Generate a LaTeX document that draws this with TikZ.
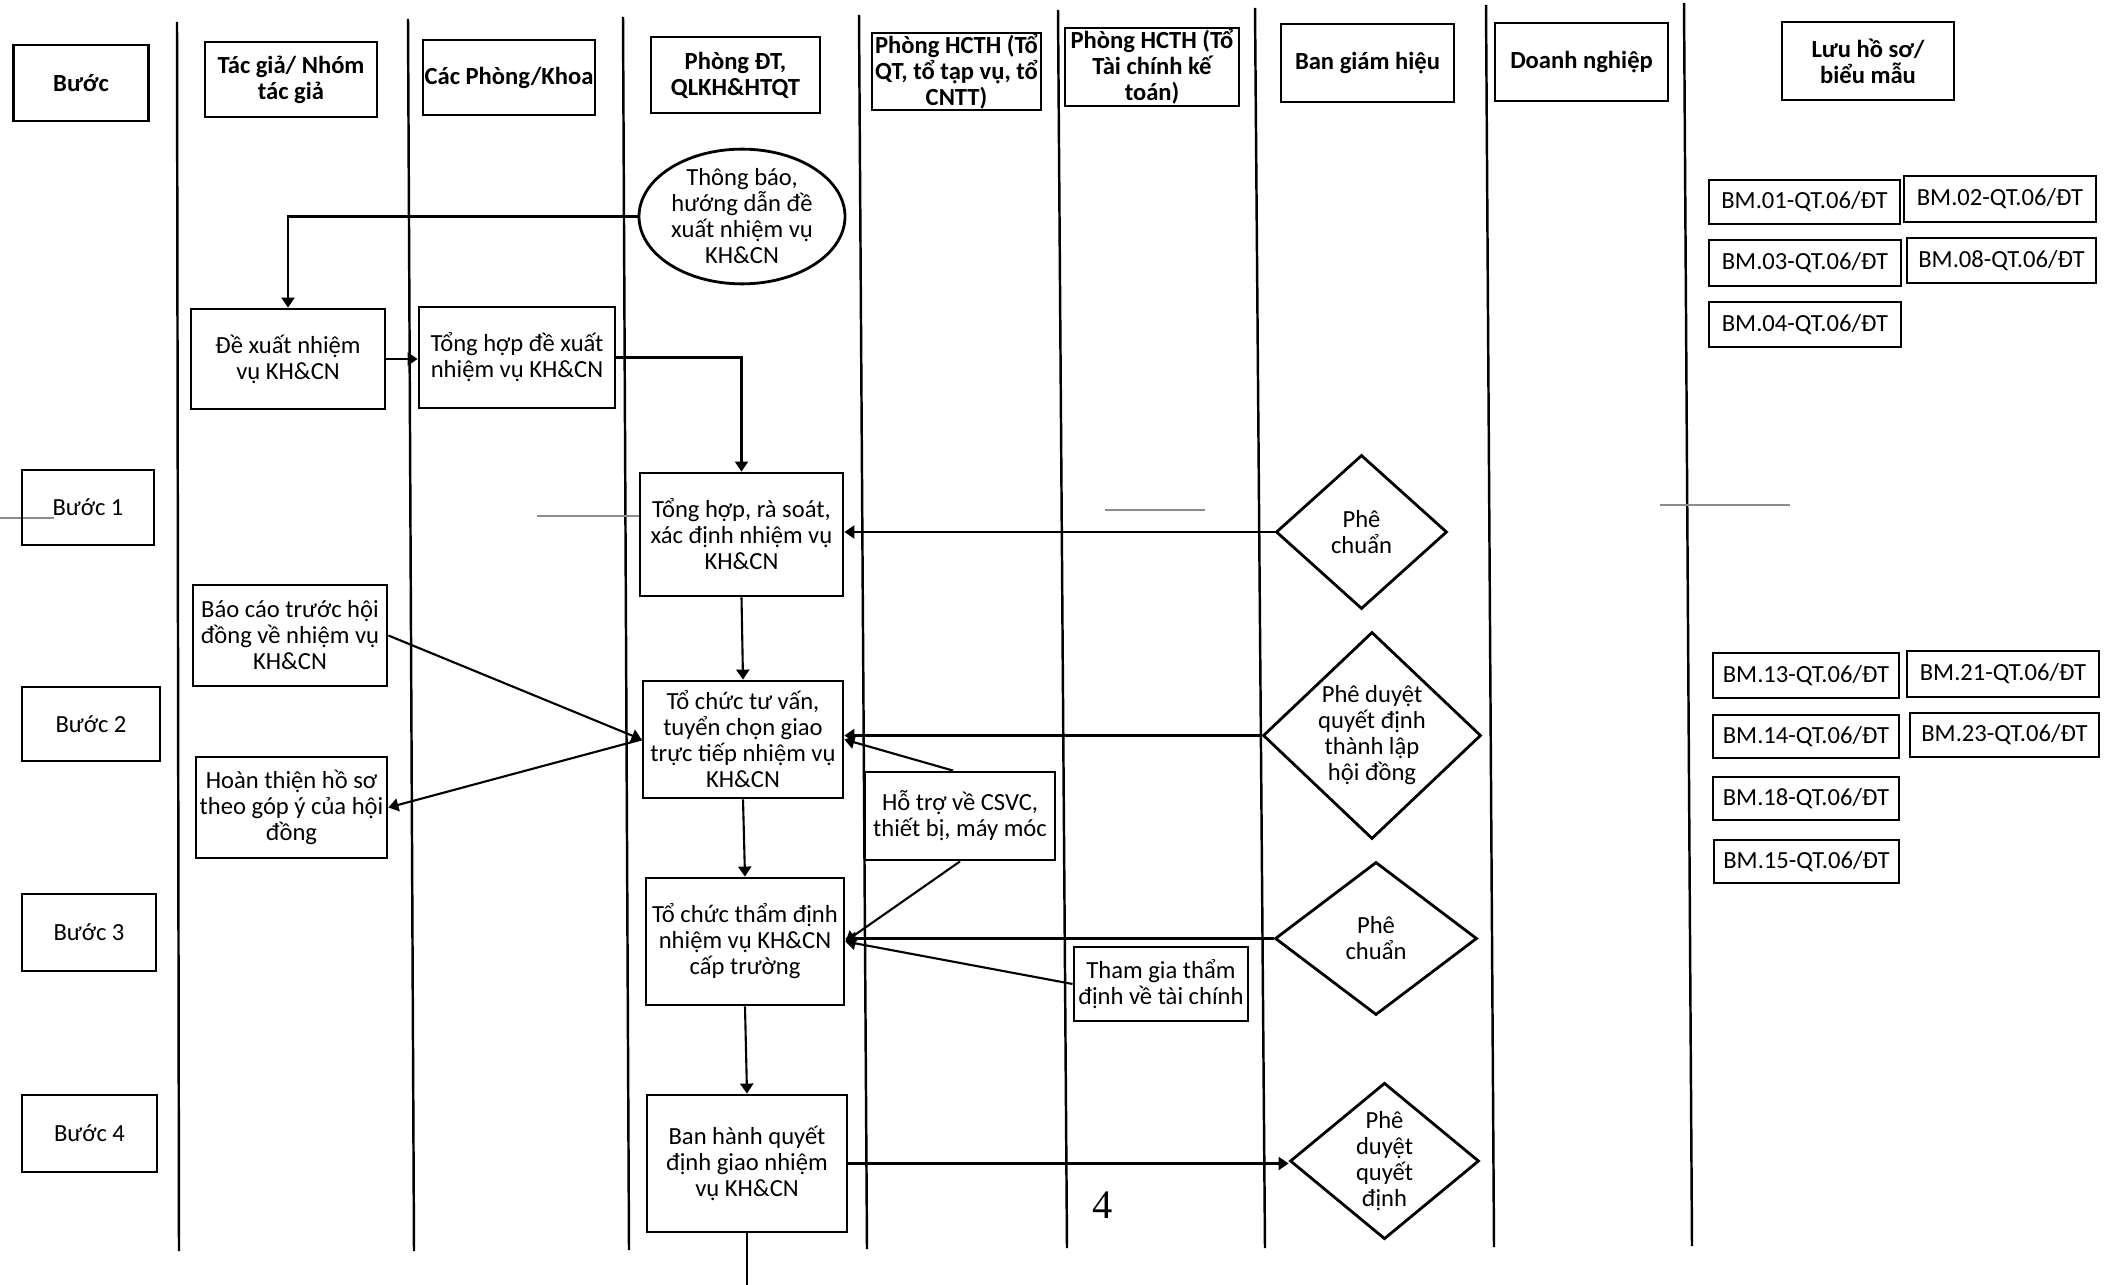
\documentclass[tikz,border=0pt]{standalone}
\usepackage{fontspec}
\setmainfont{Carlito}
\newfontfamily\pagefont{Liberation Serif}
\usetikzlibrary{shapes.geometric, arrows.meta}

\begin{document}
\begin{tikzpicture}[scale = 1]
	\tikzstyle{lane}=[draw,line width = .7pt,-,black!100]
	\tikzstyle{smudge}=[draw,line width = .4pt,-,black!45]
	\tikzstyle{headbox}=[draw,line width = .8pt,align=center,inner sep=0pt,font=\fontsize{7}{7.4}\selectfont\bfseries]
	\tikzstyle{taskbox}=[draw,line width = .8pt,align=center,inner sep=0pt,font=\fontsize{7}{7.4}\selectfont]
	\tikzstyle{approve}=[draw,diamond,aspect=1,line width = .8pt,align=center,inner sep=0pt,font=\fontsize{7}{7.4}\selectfont]
	\tikzstyle{flow}=[draw,line width = .6pt,-{Triangle[length=1mm,width=1.3mm]},black!100]
	\tikzstyle{joint}=[draw,line width = .6pt,-,black!100]
	\useasboundingbox (0,0) rectangle (21.13,-12.85);
	\draw[lane] (1.77,-0.22) -- (1.79,-12.51);
	\draw[lane] (4.08,-0.19) -- (4.14,-12.51);
	\draw[lane] (6.23,-0.17) -- (6.29,-12.50);
	\draw[lane] (8.59,-0.15) -- (8.67,-12.49);
	\draw[lane] (10.58,-0.10) -- (10.67,-12.48);
	\draw[lane] (12.55,-0.08) -- (12.65,-12.48);
	\draw[lane] (14.86,-0.05) -- (14.94,-12.47);
	\draw[lane] (16.84,-0.03) -- (16.92,-12.46);
	\draw[smudge] (0,-5.18) -- (0.54,-5.18);
	\draw[smudge] (5.37,-5.16) -- (6.40,-5.16);
	\draw[smudge] (11.05,-5.10) -- (12.05,-5.10);
	\draw[smudge] (16.60,-5.05) -- (17.90,-5.05);
	\node[headbox,minimum width=1.35cm,minimum height=.76cm] (buoc) at (0.81,-0.83) {Bước};
	\node[headbox,minimum width=1.72cm,minimum height=.75cm] (tacgia) at (2.91,-0.795) {Tác giả/ Nhóm\\tác giả};
	\node[headbox,minimum width=1.72cm,minimum height=.75cm] (khoa) at (5.09,-0.775) {Các Phòng/Khoa};
	\node[headbox,minimum width=1.69cm,minimum height=.76cm] (pdt) at (7.355,-0.75) {Phòng ĐT,\\QLKH\&HTQT};
	\node[headbox,minimum width=1.69cm,minimum height=.77cm] (hcth) at (9.565,-0.715) {Phòng HCTH (Tổ\\QT, tổ tạp vụ, tổ\\CNTT)};
	\node[headbox,minimum width=1.74cm,minimum height=.78cm] (tckt) at (11.52,-0.67) {Phòng HCTH (Tổ\\Tài chính kế\\toán)};
	\node[headbox,minimum width=1.73cm,minimum height=.78cm] (bgh) at (13.675,-0.63) {Ban giám hiệu};
	\node[headbox,minimum width=1.73cm,minimum height=.78cm] (dn) at (15.815,-0.62) {Doanh nghiệp};
	\node[headbox,minimum width=1.72cm,minimum height=.78cm] (luu) at (18.68,-0.61) {Lưu hồ sơ/\\biểu mẫu};
	\node[taskbox,minimum width=1.32cm,minimum height=.75cm] (b1) at (0.88,-5.075) {Bước 1};
	\node[taskbox,minimum width=1.38cm,minimum height=.74cm] (b2) at (0.91,-7.24) {Bước 2};
	\node[taskbox,minimum width=1.34cm,minimum height=.77cm] (b3) at (0.89,-9.325) {Bước 3};
	\node[taskbox,minimum width=1.35cm,minimum height=.77cm] (b4) at (0.895,-11.335) {Bước 4};
	\node[taskbox,ellipse,minimum width=2.06cm,minimum height=1.19cm] (tb) at (7.42,-2.165) {Thông báo,\\hướng dẫn đề\\xuất nhiệm vụ\\KH\&CN};
	\node[taskbox,minimum width=1.94cm,minimum height=1.00cm] (dx) at (2.88,-3.59) {Đề xuất nhiệm\\vụ KH\&CN};
	\node[taskbox,minimum width=1.96cm,minimum height=1.01cm] (th) at (5.17,-3.575) {Tổng hợp đề xuất\\nhiệm vụ KH\&CN};
	\node[taskbox,minimum width=2.03cm,minimum height=1.23cm] (rs) at (7.415,-5.345) {Tổng hợp, rà soát,\\xác định nhiệm vụ\\KH\&CN};
	\node[approve,minimum width=1.71cm,minimum height=1.54cm] (pc1) at (13.615,-5.32) {Phê\\chuẩn};
	\node[taskbox,minimum width=1.94cm,minimum height=1.01cm] (bc) at (2.90,-6.355) {Báo cáo trước hội\\đồng về nhiệm vụ\\KH\&CN};
	\node[taskbox,minimum width=2.00cm,minimum height=1.17cm] (tv) at (7.43,-7.395) {Tổ chức tư vấn,\\tuyển chọn giao\\trực tiếp nhiệm vụ\\KH\&CN};
	\node[approve,minimum width=2.18cm,minimum height=1.95cm] (pd1) at (13.72,-7.355) {Phê duyệt\\quyết định\\thành lập\\hội đồng};
	\node[taskbox,minimum width=1.91cm,minimum height=1.01cm] (ht) at (2.915,-8.075) {Hoàn thiện hồ sơ\\theo góp ý của hội\\đồng};
	\node[taskbox,minimum width=1.90cm,minimum height=.88cm] (hotro) at (9.60,-8.16) {Hỗ trợ về CSVC,\\thiết bị, máy móc};
	\node[taskbox,minimum width=1.98cm,minimum height=1.27cm] (td) at (7.45,-9.415) {Tổ chức thẩm định\\nhiệm vụ KH\&CN\\cấp trường};
	\node[approve,minimum width=2.02cm,minimum height=1.53cm] (pc2) at (13.76,-9.385) {Phê\\chuẩn};
	\node[taskbox,minimum width=1.74cm,minimum height=.74cm] (tg) at (11.61,-9.84) {Tham gia thẩm\\định về tài chính};
	\node[taskbox,minimum width=2.00cm,minimum height=1.37cm] (bh) at (7.47,-11.635) {Ban hành quyết\\định giao nhiệm\\vụ KH\&CN};
	\node[approve,minimum width=1.89cm,minimum height=1.52cm] (qd) at (13.845,-11.61) {Phê\\duyệt\\quyết\\định};
	\node[taskbox,minimum width=1.91cm,minimum height=.44cm] (f01) at (18.045,-2.02) {BM.01-QT.06/ĐT};
	\node[taskbox,minimum width=1.92cm,minimum height=.46cm] (f02) at (20.00,-1.99) {BM.02-QT.06/ĐT};
	\node[taskbox,minimum width=1.92cm,minimum height=.46cm] (f03) at (18.05,-2.63) {BM.03-QT.06/ĐT};
	\node[taskbox,minimum width=1.89cm,minimum height=.45cm] (f08) at (20.015,-2.605) {BM.08-QT.06/ĐT};
	\node[taskbox,minimum width=1.92cm,minimum height=.45cm] (f04) at (18.05,-3.245) {BM.04-QT.06/ĐT};
	\node[taskbox,minimum width=1.86cm,minimum height=.45cm] (f13) at (18.06,-6.755) {BM.13-QT.06/ĐT};
	\node[taskbox,minimum width=1.92cm,minimum height=.46cm] (f21) at (20.03,-6.74) {BM.21-QT.06/ĐT};
	\node[taskbox,minimum width=1.86cm,minimum height=.43cm] (f14) at (18.06,-7.365) {BM.14-QT.06/ĐT};
	\node[taskbox,minimum width=1.89cm,minimum height=.44cm] (f23) at (20.045,-7.35) {BM.23-QT.06/ĐT};
	\node[taskbox,minimum width=1.86cm,minimum height=.43cm] (f18) at (18.06,-7.985) {BM.18-QT.06/ĐT};
	\node[taskbox,minimum width=1.85cm,minimum height=.43cm] (f15) at (18.065,-8.615) {BM.15-QT.06/ĐT};
	\node[font=\pagefont\fontsize{11.5}{12}\selectfont,inner sep=0pt] (pg) at (11.03,-12.05) {4};
	\coordinate (bot) at (7.48,-12.85);
	\draw[flow] (tb.west) -| (dx.north);
	\draw[flow] (dx.east) -- (dx.east -| th.west);
	\draw[flow] (th.east) -| (rs.north);
	\draw[flow] (pc1.west) -- (pc1.west -| rs.east);
	\draw[flow] (rs.south) -- (tv.north);
	\draw[flow] (bc.east) -- (tv.west);
	\draw[flow] (tv.west) -- (ht.east);
	\draw[flow] (pd1.west) -- (pd1.west -| tv.east);
	\draw[flow] ([xshift=-.7mm]hotro.north) -- (tv.east);
	\draw[flow] (tv.south) -- (td.north);
	\draw[flow] (hotro.south) -- (td.east);
	\draw[flow] (pc2.west) -- (pc2.west -| td.east);
	\draw[flow] (tg.west) -- (td.east);
	\draw[flow] (td.south) -- (bh.north);
	\draw[flow] (bh.east) -- (bh.east -| qd.west);
	\draw[joint] (bh.south) -- (bh.south |- bot);
\end{tikzpicture}
\end{document}
